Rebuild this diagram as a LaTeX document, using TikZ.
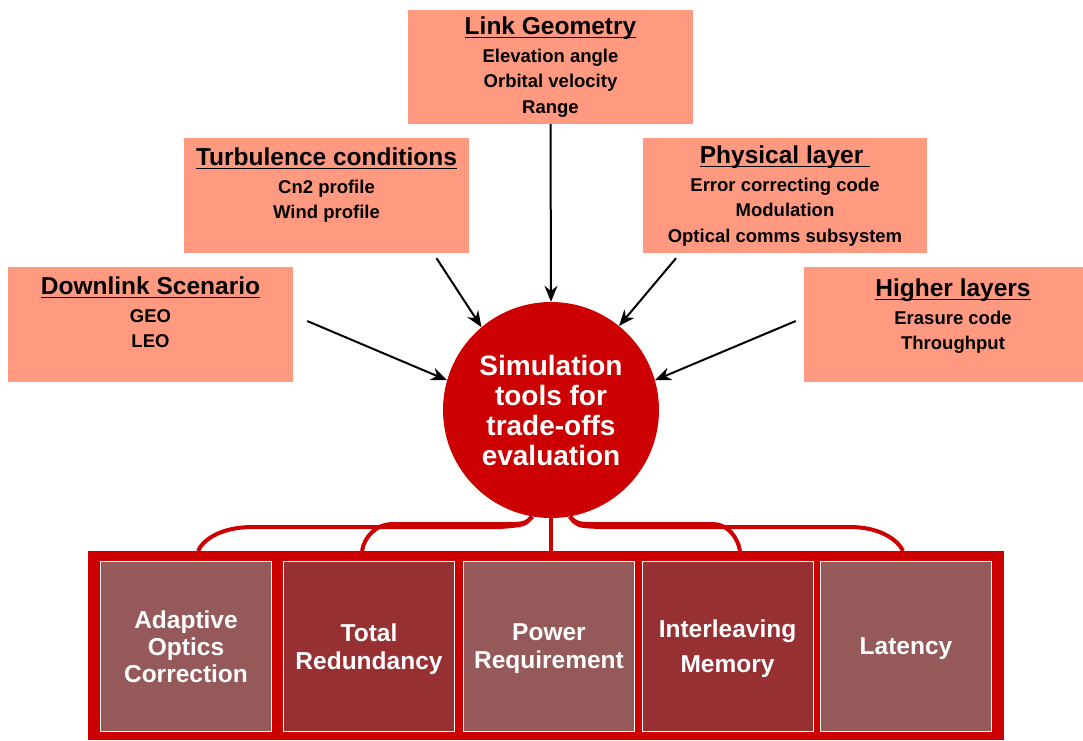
\documentclass[tikz,border=0pt]{standalone}
\usepackage{fontspec}
\setmainfont{Liberation Sans}
\usetikzlibrary{arrows.meta}
\definecolor{panelsalmon}{RGB}{255,153,128}
\definecolor{simred}{RGB}{204,0,0}
\definecolor{metriclight}{RGB}{149,89,89}
\definecolor{metricdark}{RGB}{150,48,51}
\newcommand{\paneltitle}[1]{{\fontsize{24.5}{28}\selectfont\setbox0=\hbox{#1}\rlap{\rule[-3.5pt]{\wd0}{1.6pt}}\box0}}

\begin{document}
\begin{tikzpicture}[x=1pt,y=-1pt,
  panel/.style={fill=panelsalmon,inner sep=0pt},
  paneltext/.style={anchor=north,align=center,inner sep=0pt,font=\bfseries\fontsize{18.5}{25.5}\selectfont},
  hub/.style={circle,fill=simred,minimum size=216pt,inner sep=0pt,text=white,align=center,font=\bfseries\fontsize{28}{30}\selectfont},
  metric/.style={draw=white,line width=1pt,minimum width=171pt,minimum height=170pt,inner sep=0pt,text depth=0pt,text=white,align=center,font=\bfseries\fontsize{24.5}{28}\selectfont},
  feed/.style={draw=black,line width=2pt,-{Stealth[length=16pt,width=13pt]}},
  branch/.style={draw=simred,line width=4pt}]
\useasboundingbox (0,0) rectangle (1083,740);

% input panels
\node[panel,minimum width=285pt,minimum height=114pt] (geom) at (550.5,67) {};
\node[paneltext] (geomtext) at ([yshift=-7pt]geom.north) {\paneltitle{Link Geometry}\\[2pt] Elevation angle\\ Orbital velocity\\ Range};
\node[panel,minimum width=285pt,minimum height=115pt] (turb) at (326.5,195.5) {};
\node[paneltext] (turbtext) at ([yshift=-10pt]turb.north) {\paneltitle{Turbulence conditions}\\[2pt] Cn2 profile\\ Wind profile};
\node[panel,minimum width=284pt,minimum height=115pt] (phys) at (785,195.5) {};
\node[paneltext] (phystext) at ([yshift=-8pt]phys.north) {\paneltitle{Physical layer\ }\\[2pt] Error correcting code\\ Modulation\\ Optical comms subsystem};
\node[panel,minimum width=285pt,minimum height=115pt] (down) at (150.5,324.5) {};
\node[paneltext] (downtext) at ([yshift=-10pt]down.north) {\paneltitle{Downlink Scenario}\\[2pt] GEO\\ LEO};
\node[panel,minimum width=279pt,minimum height=115pt] (higher) at (943.5,324.5) {};
\node[paneltext] (highertext) at ([xshift=9.5pt,yshift=-12pt]higher.north) {\paneltitle{Higher layers}\\[2pt] Erasure code\\ Throughput};

% central tool
\node[hub] (sim) at (551,410) {Simulation\\tools for\\trade-offs\\evaluation};

% arrows into the tool
\draw[feed] (geom.south) -- (sim.north);
\draw[feed] ([xshift=110pt,yshift=-5pt]turb.south) -- (sim.130);
\draw[feed] ([xshift=-109pt,yshift=-5pt]phys.south) -- (sim.51);
\draw[feed] ([xshift=14pt,yshift=3.5pt]down.east) -- (sim.164);
\draw[feed] ([xshift=-8pt,yshift=3.5pt]higher.west) -- (sim.16);

% outputs
\node[fill=simred,minimum width=916pt,minimum height=189pt,inner sep=0pt] (frame) at (546,645.5) {};
\node[metric,fill=metriclight] (adapt) at (186,646.5) {Adaptive\\[-1pt]Optics\\[-1pt]Correction};
\node[metric,fill=metricdark] (redund) at (369,646.5) {Total\\Redundancy};
\node[metric,fill=metriclight] (power) at (549,646.5) {Power\\Requirement};
\node[metric,fill=metricdark] (interl) at (727.5,646.5) {Interleaving\\[7pt]Memory};
\node[metric,fill=metriclight] (latency) at (906,646.5) {Latency};

% branches from the tool
\draw[branch] (sim.south) -- (sim.south |- frame.north);
\draw[branch] (sim.-100) .. controls (525,525) .. (500,527) -- (253,527) .. controls (220,527) and (203,540) .. ([xshift=12pt,yshift=10pt]adapt.north);
\draw[branch] (sim.-100) .. controls (525,524) .. (500,524) -- (393,524) .. controls (375,524) and (364,538) .. ([xshift=-7pt,yshift=10pt]redund.north);
\draw[branch] (sim.-80) .. controls (577,524) .. (600,524) -- (713,524) .. controls (728,524) and (738,538) .. ([xshift=12.5pt,yshift=10pt]interl.north);
\draw[branch] (sim.-80) .. controls (577,526) .. (600,527) -- (850,527) .. controls (880,527) and (898,540) .. ([xshift=-3pt,yshift=10pt]latency.north);
\end{tikzpicture}
\end{document}
